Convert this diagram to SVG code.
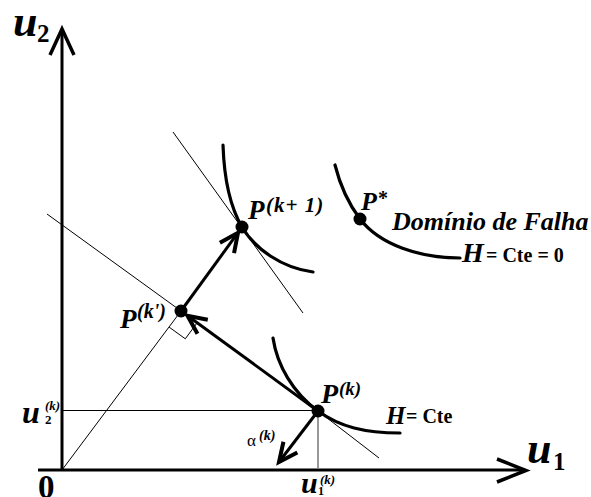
<svg xmlns="http://www.w3.org/2000/svg" width="591" height="497" viewBox="0 0 591 497">
<style>
.bi{font-family:"Liberation Serif","Times New Roman",serif;font-weight:bold;font-style:italic;fill:#000}
.b{font-family:"Liberation Serif","Times New Roman",serif;font-weight:bold;fill:#000}
.r{font-family:"Liberation Serif","Times New Roman",serif;fill:#000}
.thin{stroke:#000;stroke-width:1;fill:none}
.thick{stroke:#000;stroke-width:3;fill:none}
.curve{stroke:#000;stroke-width:3.2;fill:none;stroke-linecap:round}
.head{stroke:#000;stroke-width:3.5;fill:none;stroke-linejoin:miter}
</style>
<defs>
<marker id="arr" markerUnits="userSpaceOnUse" markerWidth="30" markerHeight="30" viewBox="-20 -10 24 20" refX="0" refY="0" orient="auto">
<path d="M-15,-7 L0,0 L-15,7" stroke="#000" stroke-width="3.2" fill="none"/>
</marker>
</defs>
<rect width="591" height="497" fill="#fff"/>
<g id="axes">
<line x1="62" y1="470" x2="62" y2="30" stroke="#000" stroke-width="3"/>
<polyline class="head" points="50,55 62,29 74,55"/>
<line x1="38" y1="470" x2="525" y2="470" stroke="#000" stroke-width="3"/>
<polyline class="head" points="497,459 526,470.5 497,482"/>
</g>
<g id="connectors">
<line class="thin" x1="62" y1="410.5" x2="318" y2="410.5"/>
<line x1="318" y1="411" x2="318" y2="469" stroke="#777" stroke-width="1.5"/>
<line class="thin" x1="62" y1="470" x2="181" y2="311"/>
<line class="thin" x1="47" y1="214" x2="181" y2="311"/>
<line class="thin" x1="318" y1="411" x2="379" y2="458"/>
<line class="thin" x1="173" y1="132" x2="303" y2="313"/>
<polyline class="thin" points="169.1,327.1 185.3,338.8 197.2,322.7"/>
<line class="thick" x1="318" y1="411" x2="187.5" y2="315.7" marker-end="url(#arr)"/>
<line class="thick" x1="181" y1="311" x2="238" y2="232.7" marker-end="url(#arr)"/>
<line class="thick" x1="318" y1="411" x2="279" y2="462" marker-end="url(#arr)"/>
<path class="curve" d="M223,145 C224,175 229,205 242,227 C255,249 282,268 313,272"/>
<path class="curve" d="M273,338 C277,365 293,393 318,411 C340,427 365,433 400,433"/>
<path class="curve" d="M335,165 C340,185 348,203 360,219 C380,245 420,258 460,258"/>
</g>
<g id="Pk">
<circle cx="318" cy="411" r="6.5" fill="#000"/>
<text class="bi" x="321" y="403" font-size="28">P</text>
<text class="bi" x="339" y="395" font-size="19">(k)</text>
</g>
<g id="Pk1">
<circle cx="242" cy="227" r="6.5" fill="#000"/>
<text class="bi" x="248" y="219" font-size="27">P</text>
<text class="bi" x="266" y="212" font-size="21" letter-spacing="1">(k+ 1)</text>
</g>
<g id="Pkp">
<text class="bi" x="120" y="328" font-size="27">P</text>
<text class="bi" x="137" y="318" font-size="20">(k')</text>
<circle cx="181" cy="311" r="6.5" fill="#000"/>
</g>
<g id="Pstar">
<circle cx="360" cy="219" r="6.5" fill="#000"/>
<text class="bi" x="361" y="210" font-size="26">P</text>
<text class="b" x="378" y="205" font-size="20">*</text>
</g>
<g id="labels">
<text class="bi" x="13" y="36" font-size="44">u</text>
<text class="b" x="37" y="42" font-size="25">2</text>
<text class="bi" x="527" y="463" font-size="44">u</text>
<text class="b" x="553" y="470" font-size="25">1</text>
<text class="b" x="38" y="498" font-size="33">0</text>
<text class="bi" x="22" y="423" font-size="32">u</text>
<text class="b" x="45" y="424" font-size="13">2</text>
<text class="bi" x="45" y="410" font-size="13">(k)</text>
<text class="bi" x="301" y="493" font-size="30">u</text>
<text class="b" x="318" y="495" font-size="12">1</text>
<text class="bi" x="320" y="484" font-size="13">(k)</text>
<text class="r" x="247" y="446" font-size="17">α</text>
<text class="bi" x="259" y="440" font-size="14">(k)</text>
<text class="bi" x="392" y="230" font-size="26">Domínio de Falha</text>
<text class="bi" x="462" y="262" font-size="28">H</text>
<text class="b" x="486" y="262" font-size="20">= Cte = 0</text>
<text class="bi" x="386" y="424" font-size="25">H</text>
<text class="b" x="406" y="423" font-size="20">= Cte</text>
</g>
</svg>
